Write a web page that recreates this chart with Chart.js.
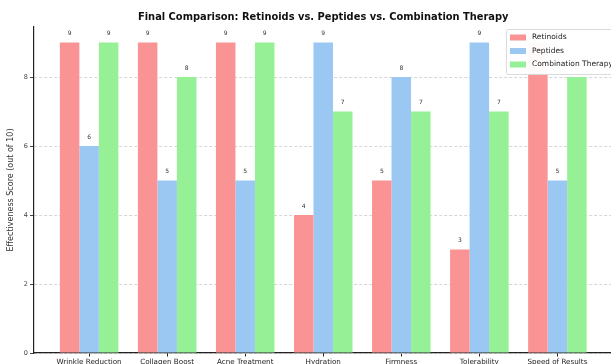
<!DOCTYPE html>
<html>
<head>
<meta charset="utf-8">
<script src="https://cdn.jsdelivr.net/npm/chart.js@4/dist/chart.umd.min.js"></script>
<style>
  html, body { margin: 0; padding: 0; background: #fff; overflow: hidden; }
  #wrap { width: 611px; height: 364px; overflow: hidden; position: relative; }
  canvas { display: block; }
</style>
</head>
<body>
<div id="wrap"><canvas id="chart" width="616" height="372"></canvas></div>
<script>
// Scores per attribute (out of 10)
const categories = ["Wrinkle Reduction", "Collagen Boost", "Acne Treatment", "Hydration", "Firmness", "Tolerability", "Speed of Results"];
const retinoids   = [9, 9, 9, 4, 5, 3, 9];
const peptides    = [6, 5, 5, 9, 8, 9, 5];
const combination = [9, 8, 9, 7, 7, 7, 8];
const seriesNames = ["Retinoids", "Peptides", "Combination Therapy"];
const seriesColors = ["#fa9494", "#9bc8f3", "#96f196"];
const yTicks = [0, 2, 4, 6, 8];

const FONT = "'DejaVu Sans', sans-serif";

function toPoints(values) {
  return values.map((v, i) => ({ x: i, y: v }));
}

// Value text above each bar, plus the boxed legend in the upper right
const overlay = {
  id: 'overlay',
  afterDatasetsDraw(chart) {
    const ctx = chart.ctx;
    ctx.save();
    ctx.font = "6px " + FONT;
    ctx.fillStyle = "#333";
    ctx.textAlign = "center";
    ctx.textBaseline = "bottom";
    chart.data.datasets.forEach((ds, di) => {
      const meta = chart.getDatasetMeta(di);
      meta.data.forEach((bar, i) => {
        ctx.fillText(String(ds.data[i].y), bar.x, bar.y - 6);
      });
    });

    // legend
    const bx = 506, by = 29, bw = 112, bh = 45;
    ctx.beginPath();
    if (ctx.roundRect) ctx.roundRect(bx + 0.5, by + 0.5, bw, bh, 2); else ctx.rect(bx + 0.5, by + 0.5, bw, bh);
    ctx.fillStyle = "rgba(255,255,255,0.96)";
    ctx.fill();
    ctx.strokeStyle = "#dadada";
    ctx.lineWidth = 1;
    ctx.stroke();
    ctx.font = "7.5px " + FONT;
    ctx.textAlign = "left";
    ctx.textBaseline = "middle";
    chart.data.datasets.forEach((ds, di) => {
      const cy = 37.5 + di * 13.5;
      ctx.fillStyle = ds.backgroundColor;
      ctx.fillRect(510, cy - 3, 16, 6);
      ctx.fillStyle = "#222";
      ctx.fillText(ds.label, 532, cy);
    });
    ctx.restore();
  }
};

new Chart(document.getElementById('chart'), {
  type: 'bar',
  data: {
    datasets: [retinoids, peptides, combination].map((vals, k) => ({
      label: seriesNames[k],
      data: toPoints(vals),
      backgroundColor: seriesColors[k],
      borderWidth: 0,
      categoryPercentage: 0.75,
      barPercentage: 1.0
    }))
  },
  options: {
    responsive: false,
    devicePixelRatio: 1,
    animation: false,
    layout: { padding: { left: 0, right: 3, top: 0, bottom: 0 } },
    plugins: {
      legend: { display: false },
      tooltip: { enabled: false },
      title: {
        display: true,
        fullSize: false,
        text: "Final Comparison: Retinoids vs. Peptides vs. Combination Therapy",
        font: { family: FONT, size: 9.9, weight: 'bold' },
        color: "#111",
        padding: { top: 11, bottom: 4.1 }
      }
    },
    scales: {
      x: {
        type: 'linear',
        offset: false,
        min: -0.7125,
        max: 6.7125,
        afterBuildTicks: (s) => { s.ticks = categories.map((_, i) => ({ value: i })); },
        afterFit: (s) => { s.height = 19; },
        ticks: {
          callback: (v) => categories[v] ?? '',
          font: { family: FONT, size: 7.2 },
          color: "#222",
          padding: 1.5,
          maxRotation: 0,
          autoSkip: false
        },
        grid: { offset: false, drawOnChartArea: false, drawTicks: true, tickLength: 3.5, tickColor: "#222" },
        border: { color: "#222", width: 1.2 }
      },
      y: {
        min: 0,
        max: 9.45,
        afterBuildTicks: (s) => { s.ticks = yTicks.map(v => ({ value: v })); },
        afterFit: (s) => { s.width = 33.5; },
        ticks: {
          font: { family: FONT, size: 6.5 },
          color: "#444",
          padding: 2
        },
        grid: { color: "#d6d6d6", lineWidth: 1, tickLength: 3.5, tickColor: "#444" },
        border: { color: "#222", width: 1.2, dash: [3, 2] },
        title: {
          display: true,
          text: "Effectiveness Score (out of 10)",
          font: { family: FONT, size: 8 },
          color: "#333",
          padding: { top: 6.5, bottom: 0 }
        }
      }
    }
  },
  plugins: [overlay]
});
</script>
</body>
</html>
